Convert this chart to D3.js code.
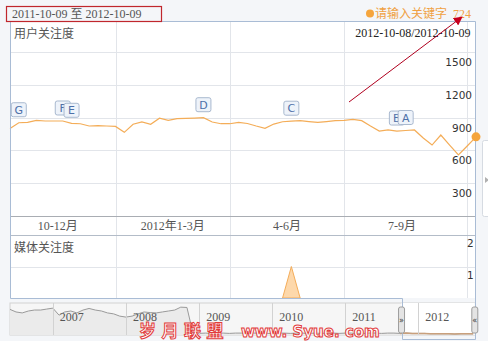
<!DOCTYPE html>
<html>
<head>
<meta charset="utf-8">
<script src="https://cdn.jsdelivr.net/npm/d3@7"></script>
<style>
body { margin: 0; background: #f4f6f9; }
svg { display: block; }
</style>
</head>
<body>
<div id="chart-area"></div>
<script>
// weekly points, 2011-10-09 .. 2012-10-14
const startDate = "2011-10-09";
const userIndex = [800, 853, 857, 875, 869, 869, 869, 848, 844, 823, 826, 823, 819, 765,
    839, 860, 839, 894, 875, 890, 893, 896, 899, 860, 844, 844, 857, 846, 823, 802,
    841, 862, 867, 872, 864, 857, 864, 872, 875, 884, 872, 823, 777, 787, 777, 782,
    787, 713, 649, 741, 649, 558, 640, 724];
const mediaIndex = [0, 0, 0, 0, 0, 0, 0, 0, 0, 0, 0, 0, 0, 0, 0, 0, 0, 0, 0, 0, 0, 0,
    0, 0, 0, 0, 0, 0, 0, 0, 0, 0, 1, 0, 0, 0, 0, 0, 0, 0, 0, 0, 0, 0, 0, 0, 0, 0, 0,
    0, 0, 0, 0, 0];
const userTicks = [300, 600, 900, 1200, 1500];
const mediaTicks = [1, 2];
const quarterLabels = ["10-12月", "2012年1-3月", "4-6月", "7-9月"];
const quarterStarts = ["2011-10-01", "2012-01-01", "2012-04-01", "2012-07-01", "2012-10-01"];
const gridDates = ["2012-01-01", "2012-04-01", "2012-07-01", "2012-10-07"];
const eventLetters = ["G", "F", "E", "D", "C", "B", "A"];
const eventWeeks = [1, 6, 7, 22, 32, 44, 45];

// navigator: monthly, from 2006-06
const navStart = "2006-06-01";
const navValues = [80, 72, 69, 75, 78, 78, 81, 84, 62, 72, 75, 69, 78, 83, 78, 75, 69, 66,
    59, 56, 59, 66, 72, 70, 69, 72, 75, 78, 87, 86, 6, 5, 6, 5, 6, 6, 5, 6, 6, 5, 6, 6,
    5, 5, 6, 6, 5, 6, 6, 5, 6, 5, 6, 6, 5, 6, 6, 5, 5, 6, 6, 5, 6, 6, 5, 6, 5, 5, 5, 4,
    4, 4, 4, 3, 4, 4, 4];
const navYears = ["2007", "2008", "2009", "2010", "2011", "2012"];
const rangeText = "2011-10-09 至 2012-10-09";
const hoverText = "2012-10-08/2012-10-09";

const W = 488, H = 341;
const pLeft = 10, pRight = 475, pTop = 21;
const upperBottom = 216, labelBottom = 235, lowerBottom = 298;
const navTop = 303, navBottom = 335;
const serif = "'Liberation Serif', 'Noto Sans CJK SC', serif";
const cjk = "'Noto Sans CJK SC', sans-serif";
const sans = "'DejaVu Sans', sans-serif";

const parse = d3.timeParse("%Y-%m-%d");
const t0 = parse(startDate);
const dates = userIndex.map((d, i) => d3.timeDay.offset(t0, 7 * i));
const rows = dates.map((d, i) => ({date: d, user: userIndex[i], media: mediaIndex[i]}));

let svg = d3.select("#chart-area").append("svg")
    .attr("width", W).attr("height", H);

// main panel
svg.append("rect").attr("x", pLeft).attr("y", pTop)
    .attr("width", pRight - pLeft).attr("height", lowerBottom - pTop)
    .attr("fill", "#fff");

let x = d3.scaleTime().domain(d3.extent(dates)).range([pLeft, 476]);
let y = d3.scaleLinear().domain([0, 1500]).range([upperBottom, 52]);
let y2 = d3.scaleLinear().domain([0, 2]).range([lowerBottom, labelBottom]);

// gridlines
svg.selectAll(".hgrid").data(userTicks).enter().append("line")
    .attr("x1", pLeft).attr("x2", pRight)
    .attr("y1", d => Math.round(y(d)) + 0.5).attr("y2", d => Math.round(y(d)) + 0.5)
    .attr("stroke", "#e2e5ea");
svg.selectAll(".hgrid2").data([1]).enter().append("line")
    .attr("x1", pLeft).attr("x2", pRight)
    .attr("y1", d => Math.round(y2(d)) + 0.5).attr("y2", d => Math.round(y2(d)) + 0.5)
    .attr("stroke", "#e2e5ea");
svg.selectAll(".vgrid").data(gridDates.map(parse)).enter().append("line")
    .attr("x1", d => Math.round(x(d)) + 0.5).attr("x2", d => Math.round(x(d)) + 0.5)
    .attr("y1", pTop).attr("y2", lowerBottom)
    .attr("stroke", "#e2e5ea");

// axis rows
svg.append("line").attr("x1", pLeft).attr("x2", pRight)
    .attr("y1", upperBottom + 0.5).attr("y2", upperBottom + 0.5).attr("stroke", "#a9adb3");
svg.append("line").attr("x1", pLeft).attr("x2", pRight)
    .attr("y1", labelBottom + 0.5).attr("y2", labelBottom + 0.5).attr("stroke", "#b3bcc8");

svg.selectAll(".qlabel").data(quarterLabels).enter().append("text")
    .attr("x", (d, i) => (x(parse(quarterStarts[i])) + x(parse(quarterStarts[i + 1]))) / 2)
    .attr("y", 230)
    .attr("text-anchor", "middle")
    .style("font-family", serif).style("font-size", "12px").style("fill", "#555")
    .text(d => d);

// y labels
svg.selectAll(".ylabel").data(userTicks).enter().append("text")
    .attr("x", 472).attr("y", d => y(d) + 14)
    .attr("text-anchor", "end")
    .style("font-family", sans).style("font-size", "10.5px").style("fill", "#333")
    .text(d => d);
svg.selectAll(".ylabel2").data(mediaTicks).enter().append("text")
    .attr("x", 467).attr("y", d => y2(d) + 12)
    .style("font-family", sans).style("font-size", "10.5px").style("fill", "#333")
    .text(d => d);

// titles
svg.append("text").attr("x", 14).attr("y", 37.5)
    .style("font-family", cjk).style("font-size", "12px").style("fill", "#555")
    .text("用户关注度");
svg.append("text").attr("x", 14).attr("y", 251.5)
    .style("font-family", cjk).style("font-size", "12px").style("fill", "#555")
    .text("媒体关注度");
svg.append("text").attr("x", 470.5).attr("y", 37)
    .attr("text-anchor", "end")
    .style("font-family", serif).style("font-size", "12px").style("fill", "#222")
    .text(hoverText);

// media area
svg.append("path").datum(rows)
    .attr("d", d3.area().x(d => x(d.date)).y0(lowerBottom).y1(d => y2(d.media))
        .defined((d, i) => d.media > 0 || (rows[i - 1] && rows[i - 1].media > 0) || (rows[i + 1] && rows[i + 1].media > 0)))
    .attr("fill", "#fdd8ab").attr("stroke", "#f4ad5a").attr("stroke-width", 1);

// user line
svg.append("path").datum(rows)
    .attr("d", d3.line().x(d => x(d.date)).y(d => y(d.user)))
    .attr("fill", "none").attr("stroke", "#f4ad58").attr("stroke-width", 1.2);

// event flags
let flags = svg.selectAll(".flag").data(eventLetters).enter().append("g")
    .attr("transform", (d, i) => "translate(" + (x(dates[eventWeeks[i]]) - 7.5) + "," + (y(userIndex[eventWeeks[i]]) - 20) + ")");
flags.append("rect").attr("width", 15).attr("height", 14).attr("rx", 2)
    .attr("fill", "#eef3fa").attr("stroke", "#a9b9cf");
flags.append("text").attr("x", 7.5).attr("y", 11).attr("text-anchor", "middle")
    .style("font-family", sans).style("font-size", "11px").style("fill", "#4d70a8")
    .text(d => d);

// navigator
let nx = d3.scaleTime().domain([parse(navStart), parse("2012-10-10")]).range([pLeft, pRight]);
let ny = d3.scaleLinear().domain([0, 100]).range([navBottom, navTop]);
const navDates = navValues.map((d, i) => d3.timeMonth.offset(parse(navStart), i));
const navRows = navDates.map((d, i) => ({date: d, v: navValues[i]}));
const selStart = nx(t0), selEnd = nx(parse("2012-10-09"));

svg.append("rect").attr("x", pLeft).attr("y", navTop)
    .attr("width", pRight - pLeft).attr("height", navBottom - navTop)
    .attr("fill", "#f6f6f6").attr("stroke", "#d2d2d2");
svg.append("rect").attr("x", selStart).attr("y", navTop)
    .attr("width", selEnd - selStart).attr("height", navBottom - navTop)
    .attr("fill", "#fff");
svg.append("path").datum(navRows)
    .attr("d", d3.area().x(d => nx(d.date)).y0(navBottom).y1(d => ny(d.v)))
    .attr("fill", "#ebebeb");
svg.append("path").datum(navRows)
    .attr("d", d3.line().x(d => nx(d.date)).y(d => ny(d.v)))
    .attr("fill", "none").attr("stroke", "#9a9a9a").attr("stroke-width", 1);
svg.append("path").datum(navRows.filter(d => d.date >= d3.timeMonth.floor(t0)))
    .attr("d", d3.line().x(d => nx(d.date)).y(d => ny(d.v)))
    .attr("fill", "none").attr("stroke", "#c9a07c").attr("stroke-width", 1.5);
svg.selectAll(".nyear").data(navYears).enter().append("line")
    .attr("x1", d => Math.round(nx(parse(d + "-01-01"))) + 0.5)
    .attr("x2", d => Math.round(nx(parse(d + "-01-01"))) + 0.5)
    .attr("y1", navTop).attr("y2", navBottom).attr("stroke", "#d2d2d2");
svg.selectAll(".nlabel").data(navYears).enter().append("text")
    .attr("x", d => nx(parse(d + "-01-01")) + 7).attr("y", 321)
    .style("font-family", serif).style("font-size", "12px").style("fill", "#555")
    .text(d => d);

// frame linking panel and selection
svg.append("path")
    .attr("d", "M" + pRight + "," + pTop + "H" + pLeft + "V" + lowerBottom + "H" + Math.round(selStart) +
        "V339H" + pRight + "Z")
    .attr("fill", "none").attr("stroke", "#a9bcd5").attr("stroke-width", 1)
    .attr("transform", "translate(0.5,0.5)");

// handles
let handles = svg.selectAll(".handle").data([selStart, selEnd]).enter().append("g")
    .attr("transform", d => "translate(" + (d - 3) + ",307)");
handles.append("rect").attr("width", 6).attr("height", 26).attr("rx", 2)
    .attr("fill", "#e4e4e4").attr("stroke", "#9c9c9c");
handles.append("text").attr("x", 3).attr("y", 16).attr("text-anchor", "middle")
    .style("font-family", sans).style("font-size", "8px").style("fill", "#333")
    .text((d, i) => i ? "«" : "»");

// end dot
svg.append("circle").attr("cx", x(dates[dates.length - 1])).attr("cy", y(userIndex[userIndex.length - 1]))
    .attr("r", 4.5).attr("fill", "#f5a53d");

// side tab
svg.append("rect").attr("x", 482.5).attr("y", 140.5).attr("width", 10).attr("height", 76).attr("rx", 2)
    .attr("fill", "#fff").attr("stroke", "#d6dbe2");
svg.append("path").attr("d", "M485,177 L489,180 L485,183 Z").attr("fill", "#b0b0b0");

// header: range box
svg.append("rect").attr("x", 6.5).attr("y", 6.5).attr("width", 155).attr("height", 15)
    .attr("fill", "none").attr("stroke", "#c0272d").attr("stroke-width", 1.2);
svg.append("text").attr("x", 12).attr("y", 18)
    .style("font-family", serif).style("font-size", "12px").style("fill", "#555")
    .text(rangeText);

// keyword legend
svg.append("circle").attr("cx", 370).attr("cy", 13.5).attr("r", 4).attr("fill", "#f5a53d");
svg.append("text").attr("x", 375).attr("y", 18)
    .style("font-family", cjk).style("font-size", "12px").style("fill", "#f0a143")
    .text("请输入关键字");
svg.append("text").attr("x", 453).attr("y", 18)
    .style("font-family", serif).style("font-size", "12px").style("fill", "#f0a143")
    .text(userIndex[userIndex.length - 1]);

// red arrow
svg.append("defs").append("marker").attr("id", "arrow")
    .attr("viewBox", "0 0 10 10").attr("refX", 9).attr("refY", 5)
    .attr("markerWidth", 9).attr("markerHeight", 9).attr("orient", "auto")
    .append("path").attr("d", "M0,0 L10,5 L0,10 Z").attr("fill", "#c8001e");
svg.append("line").attr("x1", 349).attr("y1", 102).attr("x2", 462).attr("y2", 17)
    .attr("stroke", "#b0001e").attr("stroke-width", 1)
    .attr("marker-end", "url(#arrow)");

// watermark
svg.append("text").attr("x", 139).attr("y", 337)
    .style("font-family", cjk).style("font-size", "17px").style("font-weight", "bold")
    .style("letter-spacing", "5.5px")
    .style("fill", "#fff").style("stroke", "#e23b3b").style("stroke-width", 1)
    .text("岁月联盟");
svg.append("text").attr("x", 241).attr("y", 337)
    .style("font-family", sans).style("font-size", "15px").style("font-weight", "bold")
    .style("fill", "#fff").style("stroke", "#e23b3b").style("stroke-width", 1)
    .attr("xml:space", "preserve")
    .text("www. Syue. com");
</script>
</body>
</html>
